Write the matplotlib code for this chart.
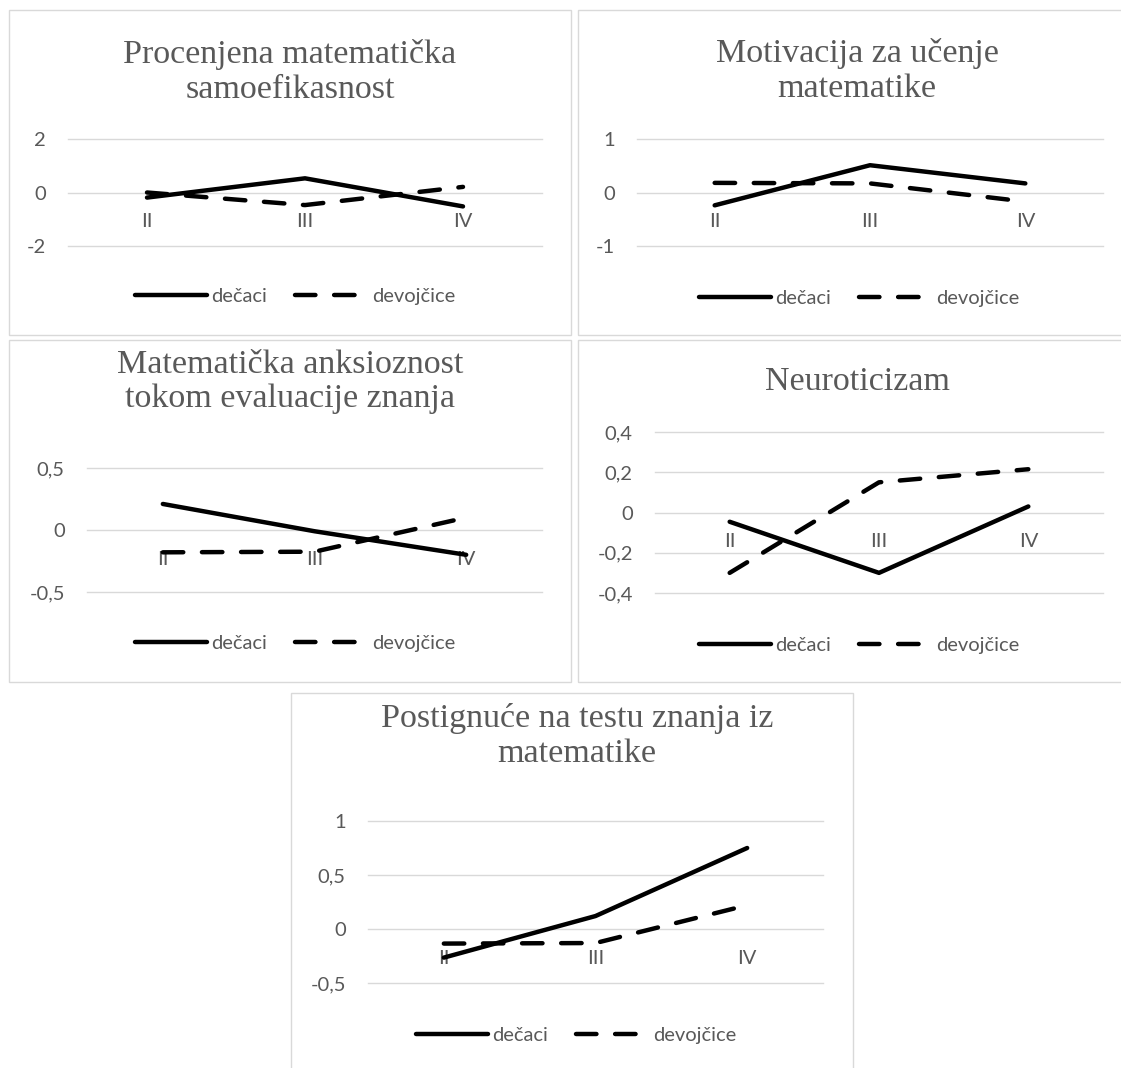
import matplotlib
matplotlib.use("Agg")
import matplotlib.pyplot as plt
from matplotlib.lines import Line2D
from matplotlib.patches import Rectangle
from matplotlib.ticker import FuncFormatter

# categories (school grade) and group means per measure
categories = ["II", "III", "IV"]
series_names = ["dečaci", "devojčice"]

samoef_decaci = [-0.19, 0.53, -0.52]
samoef_devojcice = [0.0, -0.47, 0.21]
motiv_decaci = [-0.24, 0.51, 0.17]
motiv_devojcice = [0.18, 0.17, -0.17]
anks_decaci = [0.21, -0.01, -0.20]
anks_devojcice = [-0.18, -0.175, 0.10]
neuro_decaci = [-0.046, -0.30, 0.03]
neuro_devojcice = [-0.30, 0.15, 0.215]
postig_decaci = [-0.265, 0.12, 0.75]
postig_devojcice = [-0.135, -0.13, 0.22]

titles = [
    "Procenjena matematička\nsamoefikasnost",
    "Motivacija za učenje\nmatematike",
    "Matematička anksioznost\ntokom evaluacije znanja",
    "Neuroticizam",
    "Postignuće na testu znanja iz\nmatematike",
]
yticks = [
    [-2, 0, 2],
    [-1, 0, 1],
    [-0.5, 0, 0.5],
    [-0.4, -0.2, 0, 0.2, 0.4],
    [-0.5, 0, 0.5, 1],
]
data = [
    (samoef_decaci, samoef_devojcice),
    (motiv_decaci, motiv_devojcice),
    (anks_decaci, anks_devojcice),
    (neuro_decaci, neuro_devojcice),
    (postig_decaci, postig_devojcice),
]

W, H = 1121, 1068
fig = plt.figure(figsize=(W / 100, H / 100), dpi=100)
fig.patch.set_facecolor("white")

GRAY = "#595959"
GRID = "#d9d9d9"
SANS = ["Lato", "DejaVu Sans"]
SERIF = ["Liberation Serif", "DejaVu Serif"]
LW = 3.2
DASH = (4.6, 4.2)
FS = 14.5

# layout in pixels: chart box (l, t, r, b), plot area (l, t, r, b), title center, legend center
layout = [
    ((9, 10, 571, 335), (68, 139, 542, 246), (290, 72), (295, 296)),
    ((578, 10, 1140, 335), (637, 139, 1103, 246), (857, 71), (859, 298)),
    ((9, 340, 571, 682), (87, 468, 542, 592), (290, 382), (295, 643)),
    ((578, 340, 1140, 682), (655, 432, 1103, 593), (857, 382), (859, 645)),
    ((291, 693, 853, 1080), (368, 821, 823, 983), (577, 736), (576, 1035)),
]

fmt = FuncFormatter(lambda v, p: f"{v:g}".replace(".", ","))

for i, (box, area, tpos, lpos) in enumerate(layout):
    bl, bt, br, bb = box
    fig.patches.append(Rectangle((bl / W, 1 - bb / H), (br - bl) / W, (bb - bt) / H,
                                 transform=fig.transFigure, fill=False,
                                 edgecolor=GRID, linewidth=1.0))
    al, at, ar, ab = area
    ax = fig.add_axes([al / W, 1 - ab / H, (ar - al) / W, (ab - at) / H])
    ax.patch.set_alpha(0)

    boys, girls = data[i]
    x = list(range(len(categories)))
    ax.plot(x, boys, color="black", lw=LW, solid_capstyle="round",
            solid_joinstyle="round", clip_on=False)
    ax.plot(x, girls, color="black", lw=LW, dashes=DASH,
            dash_capstyle="round", dash_joinstyle="round", clip_on=False)

    ax.set_xlim(-0.5, len(categories) - 0.5)
    ax.set_ylim(yticks[i][0], yticks[i][-1])
    ax.set_yticks(yticks[i])
    ax.yaxis.set_major_formatter(fmt)
    ax.set_xticks(x)
    ax.set_xticklabels(categories)
    ax.grid(axis="y", color=GRID, linewidth=1.0)
    for gl in ax.get_ygridlines():
        gl.set_clip_on(False)
    for s in ax.spines.values():
        s.set_visible(False)
    ax.spines["bottom"].set_position(("data", 0))
    ax.tick_params(axis="y", length=0, pad=16, labelsize=FS, labelcolor=GRAY)
    ax.tick_params(axis="x", length=0, pad=15, labelsize=FS, labelcolor=GRAY)
    for lab in ax.get_xticklabels() + ax.get_yticklabels():
        lab.set_family(SANS)

    fig.text(tpos[0] / W, 1 - tpos[1] / H, titles[i], ha="center", va="center",
             fontsize=24.5, color=GRAY, family=SERIF, linespacing=1.15)

    handles = [
        Line2D([], [], color="black", lw=LW, solid_capstyle="round"),
        Line2D([], [], color="black", lw=LW, dashes=DASH, dash_capstyle="round"),
    ]
    leg = ax.legend(handles, series_names, loc="center", ncol=2, frameon=False,
                    bbox_to_anchor=(lpos[0] / W, 1 - lpos[1] / H),
                    bbox_transform=fig.transFigure, handlelength=3.6,
                    handletextpad=0.2, columnspacing=1.4,
                    prop={"family": SANS, "size": FS})
    for t in leg.get_texts():
        t.set_color(GRAY)

fig.savefig("out.png", dpi=100, facecolor="white")
